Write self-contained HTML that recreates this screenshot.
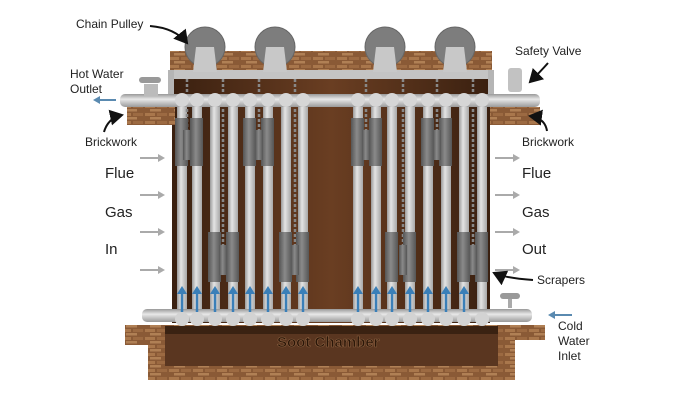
<!DOCTYPE html>
<html><head><meta charset="utf-8"><style>
html,body{margin:0;padding:0;background:#fff;}
svg{display:block;}
text{font-family:"Liberation Sans",sans-serif;fill:#222;}
</style></head><body>
<svg width="688" height="416" viewBox="0 0 688 416" xmlns="http://www.w3.org/2000/svg">
<defs>
<linearGradient id="tube" x1="0" x2="1" y1="0" y2="0">
<stop offset="0" stop-color="#9a9a9a"/><stop offset="0.4" stop-color="#e4e4e4"/><stop offset="1" stop-color="#a8a8a8"/></linearGradient>
<linearGradient id="scr" x1="0" x2="1"><stop offset="0" stop-color="#555"/><stop offset="0.45" stop-color="#8a8a8a"/><stop offset="1" stop-color="#555"/></linearGradient>
<linearGradient id="hpipe" x1="0" x2="0" y1="0" y2="1"><stop offset="0" stop-color="#999"/><stop offset="0.4" stop-color="#e8e8e8"/><stop offset="1" stop-color="#9a9a9a"/></linearGradient>
<linearGradient id="wall" x1="0" x2="1"><stop offset="0" stop-color="#3a2010"/><stop offset="0.5" stop-color="#6a3e22"/><stop offset="1" stop-color="#3a2010"/></linearGradient>
<pattern id="brick" width="24" height="8" patternUnits="userSpaceOnUse">
<rect width="24" height="8" fill="#8a5a36"/><rect x="1" y="1" width="10" height="3" fill="#a9774c"/><rect x="13" y="1" width="10" height="3" fill="#9c6a42"/><rect x="6" y="5" width="11" height="2.5" fill="#b08055"/></pattern>
<marker id="ah" markerWidth="8" markerHeight="8" refX="6" refY="4" orient="auto"><path d="M0,0 L7,4 L0,8 z" fill="#111"/></marker>
</defs>
<rect x="172" y="78" width="318" height="245" fill="url(#wall)"/>
<rect x="170" y="51" width="322" height="20" fill="url(#brick)"/>
<rect x="168" y="70" width="326" height="9" fill="#c4c4c4"/>
<rect x="168" y="70" width="6" height="30" fill="#b5b5b5"/><rect x="488" y="70" width="6" height="30" fill="#b5b5b5"/>
<g fill="#7d7d7d" stroke="#666">
<circle cx="205" cy="47" r="20"/><circle cx="275" cy="47" r="20"/><circle cx="385" cy="47" r="20"/><circle cx="455" cy="47" r="20"/></g>
<g fill="#c8c8c8"><path d="M193,72 L196,47 L214,47 L217,72z"/><path d="M263,72 L266,47 L284,47 L287,72z"/><path d="M373,72 L376,47 L394,47 L397,72z"/><path d="M443,72 L446,47 L464,47 L467,72z"/></g>
<rect x="127" y="107" width="48" height="18" fill="url(#brick)"/>
<rect x="490" y="107" width="50" height="18" fill="url(#brick)"/>
<g fill="url(#tube)">
<rect x="177" y="100" width="10" height="218"/><rect x="192" y="100" width="10" height="218"/><rect x="210" y="100" width="10" height="218"/><rect x="228" y="100" width="10" height="218"/><rect x="245" y="100" width="10" height="218"/><rect x="263" y="100" width="10" height="218"/><rect x="281" y="100" width="10" height="218"/><rect x="298" y="100" width="10" height="218"/>
<rect x="353" y="100" width="10" height="218"/><rect x="371" y="100" width="10" height="218"/><rect x="387" y="100" width="10" height="218"/><rect x="405" y="100" width="10" height="218"/><rect x="423" y="100" width="10" height="218"/><rect x="441" y="100" width="10" height="218"/><rect x="459" y="100" width="10" height="218"/><rect x="477" y="100" width="10" height="218"/>
</g>
<g stroke="#888" stroke-width="2.5" stroke-dasharray="3 2">
<line x1="223" y1="79" x2="223" y2="270"/><line x1="295" y1="79" x2="295" y2="270"/><line x1="403" y1="79" x2="403" y2="270"/><line x1="473" y1="79" x2="473" y2="270"/>
<line x1="187" y1="79" x2="187" y2="140"/><line x1="259" y1="79" x2="259" y2="140"/><line x1="366" y1="79" x2="366" y2="140"/><line x1="437" y1="79" x2="437" y2="140"/></g>
<g fill="url(#scr)">
<rect x="175" y="118" width="13" height="48"/><rect x="190" y="118" width="13" height="48"/><rect x="243" y="118" width="13" height="48"/><rect x="261" y="118" width="13" height="48"/><rect x="351" y="118" width="13" height="48"/><rect x="369" y="118" width="13" height="48"/><rect x="421" y="118" width="13" height="48"/><rect x="439" y="118" width="13" height="48"/>
<rect x="208" y="232" width="13" height="50"/><rect x="226" y="232" width="13" height="50"/><rect x="279" y="232" width="13" height="50"/><rect x="296" y="232" width="13" height="50"/><rect x="385" y="232" width="13" height="50"/><rect x="403" y="232" width="13" height="50"/><rect x="457" y="232" width="13" height="50"/><rect x="475" y="232" width="13" height="50"/>
<rect x="183" y="130" width="8" height="30"/><rect x="255" y="130" width="8" height="30"/><rect x="362" y="130" width="8" height="30"/><rect x="433" y="130" width="8" height="30"/>
<rect x="219" y="245" width="8" height="30"/><rect x="291" y="245" width="8" height="30"/><rect x="399" y="245" width="8" height="30"/><rect x="469" y="245" width="8" height="30"/>
</g>
<rect x="120" y="94" width="420" height="13" rx="5" fill="url(#hpipe)"/>
<g fill="#d6d6d6"><circle cx="182" cy="100" r="7"/><circle cx="197" cy="100" r="7"/><circle cx="215" cy="100" r="7"/><circle cx="233" cy="100" r="7"/><circle cx="250" cy="100" r="7"/><circle cx="268" cy="100" r="7"/><circle cx="286" cy="100" r="7"/><circle cx="303" cy="100" r="7"/><circle cx="358" cy="100" r="7"/><circle cx="376" cy="100" r="7"/><circle cx="392" cy="100" r="7"/><circle cx="410" cy="100" r="7"/><circle cx="428" cy="100" r="7"/><circle cx="446" cy="100" r="7"/><circle cx="464" cy="100" r="7"/><circle cx="482" cy="100" r="7"/></g>
<rect x="144" y="84" width="14" height="12" fill="#bbb"/><rect x="139" y="77" width="22" height="6" rx="3" fill="#999"/>
<rect x="508" y="68" width="14" height="24" rx="3" fill="#c2c2c2"/>
<path d="M125,325 L545,325 L545,340 L515,340 L515,380 L148,380 L148,345 L125,345 Z" fill="url(#brick)"/>
<rect x="165" y="326" width="333" height="40" fill="#5a3620"/>
<rect x="165" y="326" width="333" height="8" fill="#3a2212"/>
<rect x="142" y="309" width="390" height="13" rx="5" fill="url(#hpipe)"/>
<g fill="#d3d3d3"><circle cx="182" cy="319" r="7"/><circle cx="197" cy="319" r="7"/><circle cx="215" cy="319" r="7"/><circle cx="233" cy="319" r="7"/><circle cx="250" cy="319" r="7"/><circle cx="268" cy="319" r="7"/><circle cx="286" cy="319" r="7"/><circle cx="303" cy="319" r="7"/><circle cx="358" cy="319" r="7"/><circle cx="376" cy="319" r="7"/><circle cx="392" cy="319" r="7"/><circle cx="410" cy="319" r="7"/><circle cx="428" cy="319" r="7"/><circle cx="446" cy="319" r="7"/><circle cx="464" cy="319" r="7"/><circle cx="482" cy="319" r="7"/></g>
<rect x="508" y="298" width="4" height="10" fill="#aaa"/><rect x="500" y="293" width="20" height="6" rx="3" fill="#999"/>
<g stroke="#3a7fb8" stroke-width="2.5" fill="#3a7fb8">
<g id="ba"><line x1="182" y1="312" x2="182" y2="292"/><path d="M177,294 L182,286 L187,294z" stroke="none"/></g>
<use href="#ba" x="15"/><use href="#ba" x="33"/><use href="#ba" x="51"/><use href="#ba" x="68"/><use href="#ba" x="86"/><use href="#ba" x="104"/><use href="#ba" x="121"/>
<use href="#ba" x="176"/><use href="#ba" x="194"/><use href="#ba" x="210"/><use href="#ba" x="228"/><use href="#ba" x="246"/><use href="#ba" x="264"/><use href="#ba" x="282"/>
</g>
<text x="277" y="347" font-size="15" font-weight="bold" style="fill:#2a1608;stroke:#8a6040;stroke-width:0.6">Soot Chamber</text>
<g stroke="#aaa" stroke-width="2" fill="#aaa">
<g id="ga"><line x1="140" y1="158" x2="160" y2="158"/><path d="M158,154 L165,158 L158,162z" stroke="none"/></g>
<use href="#ga" y="37"/><use href="#ga" y="74"/><use href="#ga" y="112"/>
<use href="#ga" x="355"/><use href="#ga" x="355" y="37"/><use href="#ga" x="355" y="74"/><use href="#ga" x="355" y="112"/>
</g>
<g stroke="#5a8ab0" stroke-width="2" fill="#5a8ab0">
<line x1="98" y1="100" x2="116" y2="100"/><path d="M100,96 L93,100 L100,104z" stroke="none"/>
<line x1="553" y1="315" x2="572" y2="315"/><path d="M555,311 L548,315 L555,319z" stroke="none"/>
</g>
<g font-size="12">
<text x="76" y="28">Chain Pulley</text>
<text x="70" y="78">Hot Water</text><text x="70" y="93">Outlet</text>
<text x="85" y="146">Brickwork</text>
<text x="515" y="55">Safety Valve</text>
<text x="522" y="146">Brickwork</text>
<text x="537" y="284">Scrapers</text>
<text x="558" y="330">Cold</text><text x="558" y="345">Water</text><text x="558" y="360">Inlet</text>
</g>
<g font-size="15">
<text x="105" y="178">Flue</text><text x="105" y="217">Gas</text><text x="105" y="254">In</text>
<text x="522" y="178">Flue</text><text x="522" y="217">Gas</text><text x="522" y="254">Out</text>
</g>
<g stroke="#111" stroke-width="2" fill="none" marker-end="url(#ah)">
<path d="M150,26 Q175,28 187,43"/>
<path d="M104,132 Q108,118 122,115"/>
<path d="M548,63 Q540,72 530,82"/>
<path d="M547,131 Q545,118 530,116"/>
<path d="M533,280 Q505,278 494,273"/>
</g>
</svg>
</body></html>
